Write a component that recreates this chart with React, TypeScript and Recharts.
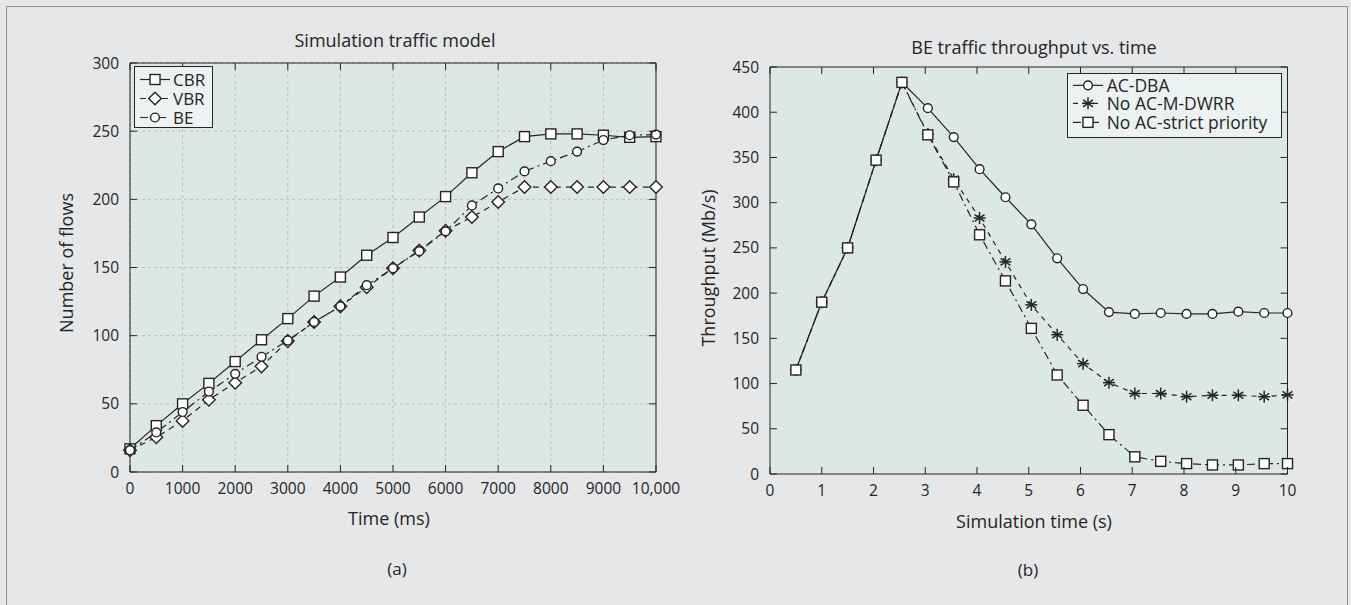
import React from "react";
import {
  LineChart,
  Line,
  XAxis,
  YAxis,
  CartesianGrid,
  ReferenceLine,
  Legend,
} from "recharts";

const FONT = "'Open Sans', 'Liberation Sans', sans-serif";
const INK = "#252525";
const PAGE_BG = "#e6e7e9";
const PLOT_BG = "#dce8e5";
const LEGEND_BG = "#ecf2f1";
const GRID = "#b7bebd";

// (a) Simulation traffic model
const timeMs = [0, 500, 1000, 1500, 2000, 2500, 3000, 3500, 4000, 4500, 5000, 5500, 6000, 6500, 7000, 7500, 8000, 8500, 9000, 9500, 10000];
const cbrFlows = [17, 34, 50, 65, 81, 97, 112.5, 129, 143, 159, 172, 187, 202, 219.5, 235, 246, 248, 248, 247, 245.5, 246];
const vbrFlows = [16, 25.5, 37.5, 53, 65.5, 77.5, 96, 110, 121.5, 135.5, 149.5, 162.5, 177, 187, 198, 209, 209, 209, 209, 209, 209];
const beFlows = [16, 29, 44, 59, 72, 84.5, 96.5, 110, 121.5, 137, 149.5, 162, 176.5, 195.5, 208, 220.5, 228, 235, 243.5, 247, 247.5];
const timeTicks = [0, 1000, 2000, 3000, 4000, 5000, 6000, 7000, 8000, 9000, 10000];
const flowTicks = [0, 50, 100, 150, 200, 250, 300];

// (b) BE traffic throughput vs. time
const simTime = [0.5, 1, 1.5, 2.05, 2.55, 3.05, 3.55, 4.05, 4.55, 5.05, 5.55, 6.05, 6.55, 7.05, 7.55, 8.05, 8.55, 9.05, 9.55, 10];
const acDba = [115, 190, 250, 347, 433, 404.5, 372.5, 337, 306, 276, 238.5, 204.5, 179, 177, 178, 177, 177, 179.5, 178, 178];
const noAcMdwrr = [115, 190, 250, 347, 433, 376, 326, 283, 234.5, 187, 154, 122, 101, 89, 89, 85.5, 87, 87, 85.5, 87.5];
const noAcStrict = [115, 190, 250, 347, 433, 375, 323, 264.5, 213.5, 161, 109.5, 76, 43.5, 19, 14, 11.5, 10, 10, 11.5, 11.5];
const simTicks = [0, 1, 2, 3, 4, 5, 6, 7, 8, 9, 10];
const tputTicks = [0, 50, 100, 150, 200, 250, 300, 350, 400, 450];

const flowRows = timeMs.map((t, i) => ({ t, cbr: cbrFlows[i], vbr: vbrFlows[i], be: beFlows[i] }));
const tputRows = simTime.map((t, i) => ({ t, dba: acDba[i], dwrr: noAcMdwrr[i], strict: noAcStrict[i] }));

type Shape = "square" | "diamond" | "circle" | "star";
type Series = { key: string; name: string; shape: Shape; dash?: string };

const flowSeries: Series[] = [
  { key: "cbr", name: "CBR", shape: "square" },
  { key: "vbr", name: "VBR", shape: "diamond", dash: "6 5" },
  { key: "be", name: "BE", shape: "circle", dash: "8 4 2 4" },
];
const tputSeries: Series[] = [
  { key: "dba", name: "AC-DBA", shape: "circle" },
  { key: "dwrr", name: "No AC-M-DWRR", shape: "star", dash: "5 5" },
  { key: "strict", name: "No AC-strict priority", shape: "square", dash: "8 4 2 4" },
];

function Marker({ shape, cx, cy }: { shape: Shape; cx: number; cy: number }) {
  const sw = 1.4;
  if (shape === "square")
    return <rect x={cx - 5} y={cy - 5} width={10} height={10} fill="#fff" stroke={INK} strokeWidth={sw} />;
  if (shape === "diamond")
    return (
      <polygon
        points={`${cx},${cy - 6.3} ${cx + 6.3},${cy} ${cx},${cy + 6.3} ${cx - 6.3},${cy}`}
        fill="#fff"
        stroke={INK}
        strokeWidth={sw}
      />
    );
  if (shape === "circle") return <circle cx={cx} cy={cy} r={4.4} fill="#fff" stroke={INK} strokeWidth={sw} />;
  const r = 6;
  const dx = r * 0.82;
  const dy = r * 0.57;
  return (
    <g stroke={INK} strokeWidth={1.5}>
      <line x1={cx} y1={cy - r} x2={cx} y2={cy + r} />
      <line x1={cx - r} y1={cy} x2={cx + r} y2={cy} />
      <line x1={cx - dx} y1={cy - dy} x2={cx + dx} y2={cy + dy} />
      <line x1={cx - dx} y1={cy + dy} x2={cx + dx} y2={cy - dy} />
    </g>
  );
}

const dotOf = (shape: Shape) => (p: any) =>
  p.cx == null || p.cy == null ? <g key={p.index} /> : <Marker key={p.index} shape={shape} cx={p.cx} cy={p.cy} />;

function XTick(props: any) {
  const { x, y, payload, top, fmt } = props;
  return (
    <g>
      <line x1={x} y1={y} x2={x} y2={y - 7} stroke={INK} />
      <line x1={x} y1={top} x2={x} y2={top + 7} stroke={INK} />
      <text x={x} y={y + 21.5} textAnchor="middle" fill={INK} fontSize={15.5} fontFamily={FONT}>
        {fmt(payload.value)}
      </text>
    </g>
  );
}

function YTick(props: any) {
  const { x, y, payload, right } = props;
  return (
    <g>
      <line x1={x} y1={y} x2={x + 7} y2={y} stroke={INK} />
      <line x1={right} y1={y} x2={right - 7} y2={y} stroke={INK} />
      <text x={x - 11} y={y + 5.5} textAnchor="end" fill={INK} fontSize={15.5} fontFamily={FONT}>
        {payload.value}
      </text>
    </g>
  );
}

type Box = { w: number; h: number; padTop: number; padLeft: number; row: number; sample: number; gap: number; font: number };

function LegendBox({ series, box }: { series: Series[]; box: Box }) {
  return (
    <div
      style={{
        boxSizing: "border-box",
        width: box.w,
        height: box.h,
        background: LEGEND_BG,
        border: `1px solid ${INK}`,
        paddingTop: box.padTop,
        paddingLeft: box.padLeft,
        fontFamily: FONT,
        fontSize: box.font,
        color: INK,
      }}
    >
      {series.map((s) => (
        <div
          key={s.key}
          style={{ display: "flex", alignItems: "center", height: box.row, lineHeight: `${box.row}px`, whiteSpace: "nowrap" }}
        >
          <svg width={box.sample} height={box.row} style={{ flex: "none", marginRight: box.gap }}>
            <line x1={0} x2={box.sample} y1={box.row / 2} y2={box.row / 2} stroke={INK} strokeWidth={1.2} strokeDasharray={s.dash} />
            <Marker shape={s.shape} cx={box.sample / 2} cy={box.row / 2} />
          </svg>
          <span>{s.name}</span>
        </div>
      ))}
    </div>
  );
}

function Caption({ x, y, text, size = 18, rotate = false }: { x: number; y: number; text: string; size?: number; rotate?: boolean }) {
  return (
    <div
      style={{
        position: "absolute",
        left: x,
        top: y,
        transform: `translate(-50%, -50%)${rotate ? " rotate(-90deg)" : ""}`,
        fontFamily: FONT,
        fontSize: size,
        lineHeight: 1,
        color: INK,
        whiteSpace: "nowrap",
      }}
    >
      {text}
    </div>
  );
}

function FlowChart() {
  const top = 63;
  const right = 656;
  return (
    <div style={{ position: "absolute", left: 0, top: 0 }}>
      <LineChart width={680} height={605} data={flowRows} margin={{ top, right: 680 - right, bottom: 605 - 472 - 30, left: 130 - 60 }}>
        <CartesianGrid stroke={GRID} strokeDasharray="3 3" fill={PLOT_BG} fillOpacity={1} />
        <XAxis
          dataKey="t"
          type="number"
          domain={[0, 10000]}
          ticks={timeTicks}
          interval={0}
          height={30}
          tickSize={0}
          tickMargin={0}
          tickLine={false}
          axisLine={{ stroke: INK }}
          tick={(p: any) => <XTick {...p} top={top} fmt={(v: number) => (v === 10000 ? "10,000" : String(v))} />}
        />
        <YAxis
          type="number"
          domain={[0, 300]}
          ticks={flowTicks}
          interval={0}
          width={60}
          tickSize={0}
          tickMargin={0}
          tickLine={false}
          axisLine={{ stroke: INK }}
          tick={(p: any) => <YTick {...p} right={right} />}
        />
        <ReferenceLine y={300} stroke={INK} />
        <ReferenceLine x={10000} stroke={INK} />
        {flowSeries.map((s) => (
          <Line
            key={s.key}
            dataKey={s.key}
            name={s.name}
            type="linear"
            stroke={INK}
            strokeWidth={1.2}
            strokeDasharray={s.dash}
            dot={dotOf(s.shape)}
            activeDot={false}
            isAnimationActive={false}
          />
        ))}
        <Legend
          layout="vertical"
          align="center"
          verticalAlign="middle"
          wrapperStyle={{ left: 134, top: 66, width: 79, height: 62 }}
          content={() => (
            <LegendBox series={flowSeries} box={{ w: 79, h: 62, padTop: 2.8, padLeft: 5, row: 19, sample: 30, gap: 3, font: 17 }} />
          )}
        />
      </LineChart>
      <Caption x={395} y={40} text="Simulation traffic model" />
      <Caption x={389} y={518} text="Time (ms)" />
      <Caption x={397} y={568} text="(a)" size={17} />
      <Caption x={66} y={263} text="Number of flows" rotate />
    </div>
  );
}

function ThroughputChart() {
  const top = 67;
  const right = 617.5;
  return (
    <div style={{ position: "absolute", left: 670, top: 0 }}>
      <LineChart width={681} height={605} data={tputRows} margin={{ top, right: 681 - right, bottom: 605 - 474 - 30, left: 100 - 60 }}>
        <CartesianGrid fill={PLOT_BG} fillOpacity={1} horizontal={false} vertical={false} />
        <XAxis
          dataKey="t"
          type="number"
          domain={[0, 10]}
          ticks={simTicks}
          interval={0}
          height={30}
          tickSize={0}
          tickMargin={0}
          tickLine={false}
          axisLine={{ stroke: INK }}
          tick={(p: any) => <XTick {...p} top={top} fmt={(v: number) => String(v)} />}
        />
        <YAxis
          type="number"
          domain={[0, 450]}
          ticks={tputTicks}
          interval={0}
          width={60}
          tickSize={0}
          tickMargin={0}
          tickLine={false}
          axisLine={{ stroke: INK }}
          tick={(p: any) => <YTick {...p} right={right} />}
        />
        <ReferenceLine y={450} stroke={INK} />
        <ReferenceLine x={10} stroke={INK} />
        {tputSeries.map((s) => (
          <Line
            key={s.key}
            dataKey={s.key}
            name={s.name}
            type="linear"
            stroke={INK}
            strokeWidth={1.2}
            strokeDasharray={s.dash}
            dot={dotOf(s.shape)}
            activeDot={false}
            isAnimationActive={false}
          />
        ))}
        <Legend
          layout="vertical"
          align="center"
          verticalAlign="middle"
          wrapperStyle={{ left: 397.3, top: 72.7, width: 214.4, height: 65.6 }}
          content={() => (
            <LegendBox series={tputSeries} box={{ w: 214.4, h: 65.6, padTop: 2, padLeft: 4.7, row: 18.7, sample: 30, gap: 3.7, font: 17.5 }} />
          )}
        />
      </LineChart>
      <Caption x={364} y={46.7} text="BE traffic throughput vs. time" />
      <Caption x={364} y={520.7} text="Simulation time (s)" />
      <Caption x={358} y={568.7} text="(b)" size={17} />
      <Caption x={38} y={268} text="Throughput (Mb/s)" rotate />
    </div>
  );
}

export default function App() {
  return (
    <div style={{ position: "fixed", left: 0, top: 0, width: 1351, height: 605, background: PAGE_BG, overflow: "hidden" }}>
      <div
        style={{
          position: "absolute",
          left: 6,
          top: 6,
          width: 1340,
          height: 640,
          border: "1px solid #8d8e90",
        }}
      />
      <FlowChart />
      <ThroughputChart />
    </div>
  );
}
